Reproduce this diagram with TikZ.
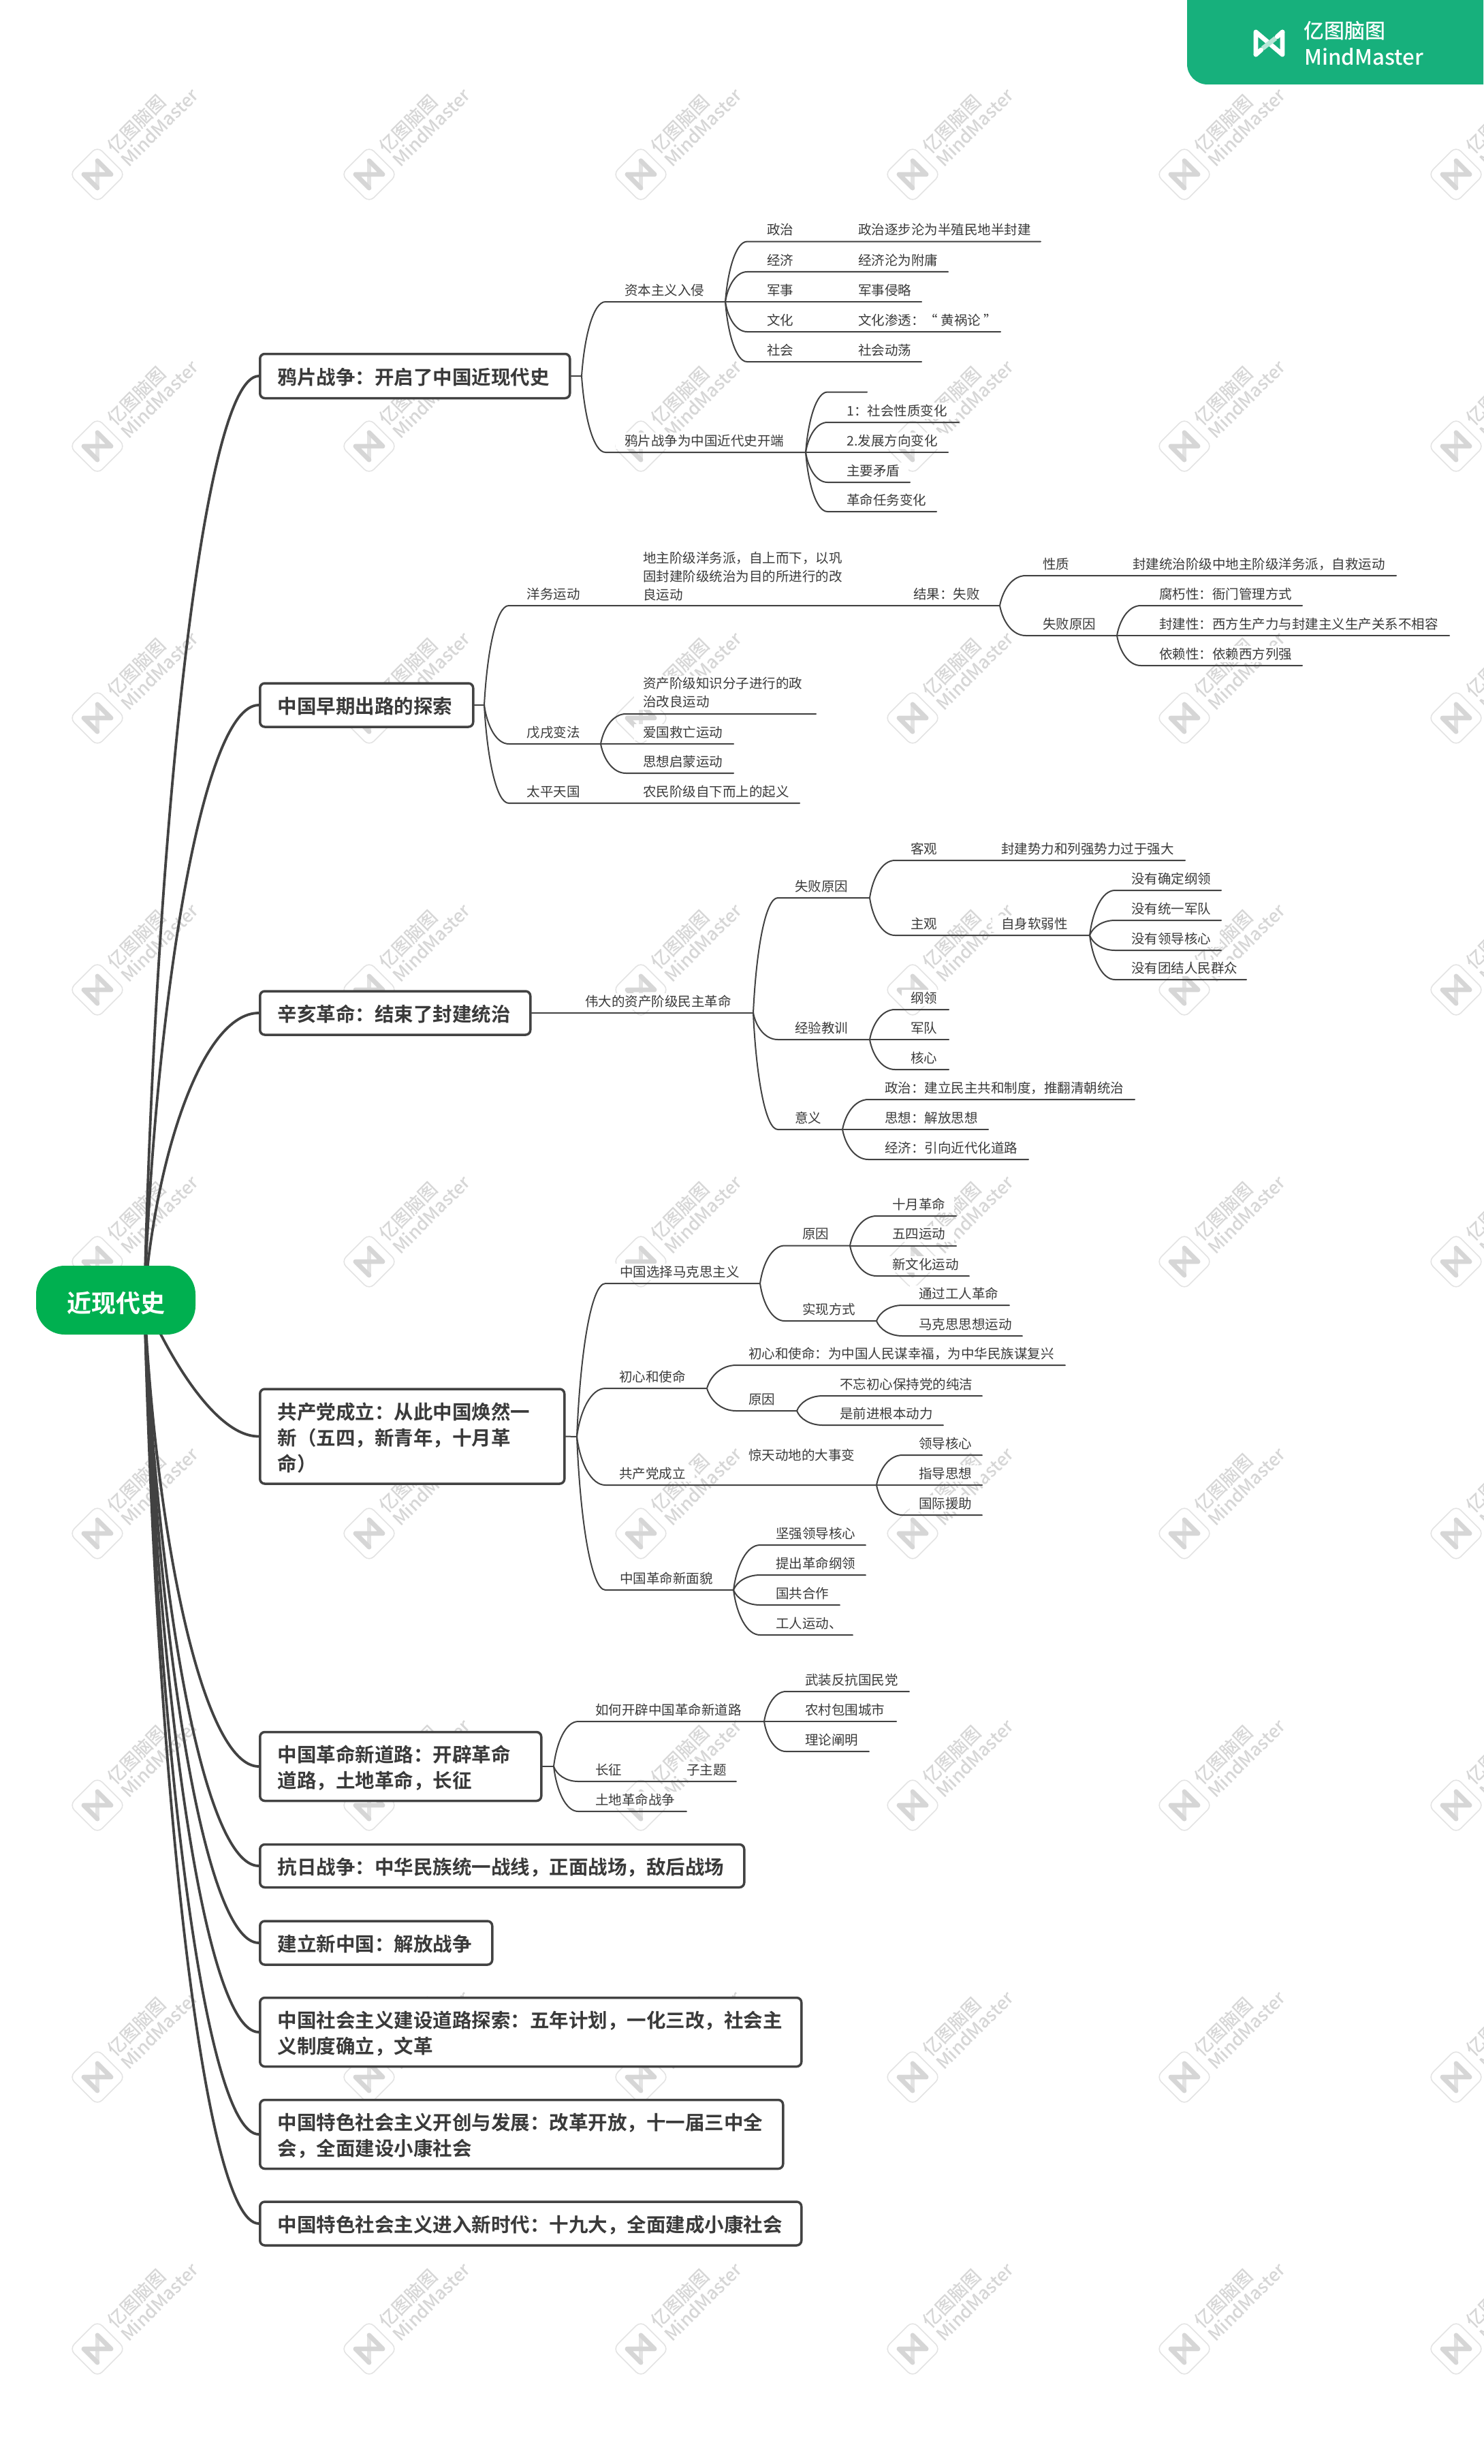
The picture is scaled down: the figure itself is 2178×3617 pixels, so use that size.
\documentclass[tikz,border=0pt]{standalone}
\usepackage{fontspec}
\usetikzlibrary{calc}
\setmainfont{Noto Sans CJK SC}[BoldFont={Noto Sans CJK SC Bold}]
\newfontfamily\medf{Noto Sans CJK SC Medium}
\definecolor{lc}{HTML}{424242}
\definecolor{tc}{HTML}{3A3A3A}
\definecolor{rootg}{HTML}{00B050}
\definecolor{bang}{HTML}{17B07C}
\definecolor{wm}{HTML}{D6D6D6}
\definecolor{wml}{HTML}{E3E3E3}
\newcommand{\st}{\rule[-1.2pt]{0pt}{9.8pt}}
\newcommand{\stb}{\rule[-1.7pt]{0pt}{16.2pt}}
\tikzset{
  l1/.style={draw=lc,line width=1.9pt,line cap=round},
  l2/.style={draw=lc,line width=1pt,line cap=round},
  txtnode/.style={fill=white,text=tc,inner xsep=6.5pt,inner ysep=1pt,anchor=west,align=left,
    font=\fontsize{9.75}{13.5}\selectfont},
  boxnode/.style={draw=lc,fill=white,line width=1.75pt,rounded corners=3.5pt,anchor=west,align=left,
    inner xsep=13pt,inner ysep=0pt,text=tc,font=\fontsize{14.25}{19}\selectfont\bfseries},
  rootnode/.style={fill=rootg,text=white,rounded corners=21pt,minimum width=117pt,minimum height=50.5pt,
    inner sep=0pt,font=\fontsize{18}{22}\selectfont\bfseries},
}
% branch: from start #1, curve to (#3,#4), then straight to (#5,#4); coordinates #2-e and #2-r
\newcommand{\brn}[5]{%
  \coordinate (#2-e) at (#3,#4);
  \coordinate (#2-r) at (#5,#4);
  \draw[l2] let \p1=(#1),\p2=(#2-e) in (#1) .. controls ({\x1+.12*(\x2-\x1)},{\y1+.55*(\y2-\y1)}) and ({\x1+.5*(\x2-\x1)},{\y2}) .. (#2-e) -- (#2-r);
}
% text above an underline at y=#3, left edge of the text at x=#2
\newcommand{\tx}[4]{\node[txtnode] (#1) at ({#2-13},{#3-17}) {\st #4};}
\newcommand{\bx}[5]{\node[boxnode,text width=#3pt,minimum height=#4pt] (#1) at (380,#2) {#5};}
\begin{document}
\begin{tikzpicture}[x=.5pt,y=-.5pt]
\useasboundingbox (0,0) rectangle (2178,3617);
\clip (0,0) rectangle (2178,3617);
% watermark
\foreach \i in {0,...,5}{
  \foreach \j in {0,...,8}{
    \pgfmathsetmacro{\X}{143+399*\i}
    \pgfmathsetmacro{\Y}{256+399*\j}
    \begin{scope}[shift={(\X,\Y)}]
      \draw[wml,line width=.8pt,rounded corners=5pt] (-41,0)--(0,-41)--(41,0)--(0,41)--cycle;
      \draw[wml,line width=3.4pt,line cap=round] (0,-20)--(0,20);
      \draw[wm,line width=3.4pt,line cap=round,line join=round] (0,20)--(-20,0)--(20,0)--(0,-20);
      \node[rotate=45,text=wm,inner sep=0pt,font=\medf\fontsize{13.4}{16}\selectfont] (wa\i\j) at (57,-74) {亿图脑图};
      \node[rotate=45,text=wm,inner sep=0pt,font=\medf\fontsize{13.2}{16}\selectfont] (wb\i\j) at (91,-69) {MindMaster};
    \end{scope}
  }
}
% banner
\fill[bang] (1743,0) [rounded corners=15pt] -- (1743,124) [sharp corners] -- (2178,124) -- (2178,0) -- cycle;
\draw[white,line width=3.4pt,line join=round,line cap=round] (1844,80)--(1844,47)--(1883,80)--(1883,47);
\draw[white,line width=3.4pt,line cap=round] (1883,47)--(1875,54) (1844,80)--(1852,73);
\draw[white!70!bang,line width=3.4pt] (1854,71)--(1873,56);
\node[text=white,inner sep=0pt,anchor=west,font=\medf\fontsize{15}{18}\selectfont] (lg1) at (1914,45) {亿图脑图};
\node[text=white,inner sep=0pt,anchor=west,font=\medf\fontsize{15.6}{18}\selectfont] (lg2) at (1915,83) {MindMaster};
% main topics
\bx{b1}{552}{201.5}{32.5}{\stb 鸦片战争：开启了中国近现代史}
\bx{b2}{1035}{130.5}{32}{\stb 中国早期出路的探索}
\bx{b3}{1487}{172.5}{32}{\stb 辛亥革命：结束了封建统治}
\bx{b4}{2108.5}{197.5}{69.5}{\stb 共产党成立：从此中国焕然一\\\stb 新（五四，新青年，十月革\\\stb 命）}
\bx{b5}{2593}{180.5}{50.5}{\stb 中国革命新道路：开辟革命\\\stb 道路，土地革命，长征}
\bx{b6}{2739}{329.5}{31.5}{\stb 抗日战争：中华民族统一战线，正面战场，敌后战场}
\bx{b7}{2852}{144.5}{32}{\stb 建立新中国：解放战争}
\bx{b8}{2983}{371.5}{50.5}{\stb 中国社会主义建设道路探索：五年计划，一化三改，社会主\\\stb 义制度确立，文革}
\bx{b9}{3133}{358}{50.5}{\stb 中国特色社会主义开创与发展：改革开放，十一届三中全\\\stb 会，全面建设小康社会}
\bx{b10}{3264}{371.5}{32}{\stb 中国特色社会主义进入新时代：十九大，全面建成小康社会}
% texts: b1
\tx{ta1}{917}{443}{资本主义入侵}
\tx{ta11}{1126}{354.6}{政治}\tx{ta11x}{1260}{354.6}{政治逐步沦为半殖民地半封建}
\tx{ta12}{1126}{399}{经济}\tx{ta12x}{1260}{399}{经济沦为附庸}
\tx{ta13}{1126}{443}{军事}\tx{ta13x}{1260}{443}{军事侵略}
\tx{ta14}{1126}{487}{文化}\tx{ta14x}{1260}{487}{文化渗透：“ 黄祸论 ”}
\tx{ta15}{1126}{531}{社会}\tx{ta15x}{1260}{531}{社会动荡}
\tx{ta2}{917}{664}{鸦片战争为中国近代史开端}
\tx{ta22}{1243}{620}{1：社会性质变化}
\tx{ta23}{1243}{664}{2.发展方向变化}
\tx{ta24}{1243}{708}{主要矛盾}
\tx{ta25}{1243}{751}{革命任务变化}
% texts: b2
\tx{tb1}{773.5}{889}{洋务运动}
\node[txtnode] (tb1x) at (931,846) {\st 地主阶级洋务派，自上而下，以巩\\\st 固封建阶级统治为目的所进行的改\\\st 良运动};
\tx{tb1y}{1341}{889}{结果：失败}
\tx{tb11}{1531}{845}{性质}\tx{tb11x}{1663}{845}{封建统治阶级中地主阶级洋务派，自救运动}
\tx{tb12}{1531}{933}{失败原因}
\tx{tb121}{1702}{889}{腐朽性：衙门管理方式}
\tx{tb122}{1702}{933}{封建性：西方生产力与封建主义生产关系不相容}
\tx{tb123}{1702}{977}{依赖性：依赖西方列强}
\tx{tb2}{773.5}{1092}{戊戌变法}
\node[txtnode] (tb21) at (931,1017) {\st 资产阶级知识分子进行的政\\\st 治改良运动};
\tx{tb22}{944}{1092}{爱国救亡运动}
\tx{tb23}{944}{1135}{思想启蒙运动}
\tx{tb3}{773.5}{1179}{太平天国}\tx{tb3x}{944}{1179}{农民阶级自下而上的起义}
% texts: b3
\tx{tc0}{859}{1487}{伟大的资产阶级民主革命}
\tx{tc1}{1167}{1318}{失败原因}
\tx{tc11}{1337}{1263}{客观}\tx{tc11x}{1470}{1263}{封建势力和列强势力过于强大}
\tx{tc12}{1337}{1373}{主观}\tx{tc12x}{1470}{1373}{自身软弱性}
\tx{tc121}{1661}{1307}{没有确定纲领}
\tx{tc122}{1661}{1351}{没有统一军队}
\tx{tc123}{1661}{1395}{没有领导核心}
\tx{tc124}{1661}{1438}{没有团结人民群众}
\tx{tc2}{1167}{1526}{经验教训}
\tx{tc21}{1337}{1482}{纲领}
\tx{tc22}{1337}{1526}{军队}
\tx{tc23}{1337}{1570}{核心}
\tx{tc3}{1167}{1658}{意义}
\tx{tc31}{1299}{1614}{政治：建立民主共和制度，推翻清朝统治}
\tx{tc32}{1299}{1658}{思想：解放思想}
\tx{tc33}{1299}{1702}{经济：引向近代化道路}
% texts: b4
\tx{td1}{910}{1884}{中国选择马克思主义}
\tx{td11}{1178}{1828.5}{原因}
\tx{td111}{1310}{1785}{十月革命}
\tx{td112}{1310}{1828.5}{五四运动}
\tx{td113}{1310}{1873}{新文化运动}
\tx{td12}{1178}{1939}{实现方式}
\tx{td121}{1349}{1916}{通过工人革命}
\tx{td122}{1349}{1961}{马克思思想运动}
\tx{td2}{909}{2038}{初心和使命}
\tx{td21}{1099}{2004}{初心和使命：为中国人民谋幸福，为中华民族谋复兴}
\tx{td22}{1099}{2071}{原因}
\tx{td221}{1233}{2049}{不忘初心保持党的纯洁}
\tx{td222}{1233}{2092}{是前进根本动力}
\tx{td3}{909}{2180}{共产党成立}
\tx{td3x}{1099}{2153}{惊天动地的大事变}
\tx{td31}{1349}{2136}{领导核心}
\tx{td32}{1349}{2180}{指导思想}
\tx{td33}{1349}{2224}{国际援助}
\tx{td4}{910}{2334}{中国革命新面貌}
\tx{td41}{1139}{2268}{坚强领导核心}
\tx{td42}{1139}{2312}{提出革命纲领}
\tx{td43}{1139}{2356}{国共合作}
\tx{td44}{1139}{2400}{工人运动、}
% texts: b5
\tx{te1}{874}{2527}{如何开辟中国革命新道路}
\tx{te11}{1182}{2483}{武装反抗国民党}
\tx{te12}{1182}{2527}{农村包围城市}
\tx{te13}{1182}{2571}{理论阐明}
\tx{te2}{874}{2615}{长征}\tx{te2x}{1008}{2615}{子主题}
\tx{te3}{874}{2659}{土地革命战争}
% connectors from the root
\coordinate (rc) at (212,1908);
\draw[l1] (rc) .. controls (228,1230) and (297,552) .. (b1.west);
\draw[l1] (rc) .. controls (228,1471) and (297,1035) .. (b2.west);
\draw[l1] (rc) .. controls (228,1698) and (297,1487) .. (b3.west);
\draw[l1] (rc) .. controls (245,1985) and (315,2109) .. (b4.west);
\draw[l1] (rc) .. controls (228,2250) and (297,2593) .. (b5.west);
\draw[l1] (rc) .. controls (228,2323) and (297,2739) .. (b6.west);
\draw[l1] (rc) .. controls (228,2380) and (297,2852) .. (b7.west);
\draw[l1] (rc) .. controls (228,2445) and (297,2983) .. (b8.west);
\draw[l1] (rc) .. controls (228,2520) and (297,3133) .. (b9.west);
\draw[l1] (rc) .. controls (228,2586) and (297,3264) .. (b10.west);
% b1 branches
\coordinate (j1) at (854,552); \draw[l2] (b1.east)--(j1);
\brn{j1}{a1}{889}{443}{1065}
\brn{a1-r}{a11}{1097}{354.6}{1528}
\brn{a1-r}{a12}{1097}{399}{1392}
\brn{a1-r}{a13}{1097}{443}{1353}
\brn{a1-r}{a14}{1097}{487}{1469}
\brn{a1-r}{a15}{1097}{531}{1353}
\brn{j1}{a2}{889}{664}{1183}
\brn{a2-r}{a21}{1215}{575.5}{1273}
\brn{a2-r}{a22}{1215}{620}{1408}
\brn{a2-r}{a23}{1215}{664}{1392}
\brn{a2-r}{a24}{1215}{708}{1336}
\brn{a2-r}{a25}{1215}{751}{1375}
% b2 branches
\coordinate (j2) at (711,1035); \draw[l2] (b2.east)--(j2);
\brn{j2}{c1}{747}{889}{1468}
\brn{c1-r}{c11}{1506}{845}{2050}
\brn{c1-r}{c12}{1506}{933}{1640}
\brn{c12-r}{c121}{1675}{889}{1912}
\brn{c12-r}{c122}{1675}{933}{2128}
\brn{c12-r}{c123}{1675}{977}{1912}
\brn{j2}{c2}{747}{1092}{882}
\brn{c2-r}{c21}{919}{1048}{1198}
\brn{c2-r}{c22}{919}{1092}{1077}
\brn{c2-r}{c23}{919}{1135}{1077}
\brn{j2}{c3}{747}{1179}{1174}
% b3 branches
\coordinate (j3) at (1106,1487); \draw[l2] (b3.east)--(j3);
\brn{j3}{d1}{1142}{1318}{1277}
\brn{d1-r}{d11}{1314}{1263}{1740}
\brn{d1-r}{d12}{1314}{1373}{1600}
\brn{d12-r}{d121}{1637}{1307}{1793}
\brn{d12-r}{d122}{1637}{1351}{1793}
\brn{d12-r}{d123}{1637}{1395}{1793}
\brn{d12-r}{d124}{1637}{1438}{1830}
\brn{j3}{d2}{1142}{1526}{1277}
\brn{d2-r}{d21}{1314}{1482}{1393}
\brn{d2-r}{d22}{1314}{1526}{1393}
\brn{d2-r}{d23}{1314}{1570}{1393}
\brn{j3}{d3}{1142}{1658}{1237}
\brn{d3-r}{d31}{1275}{1614}{1666}
\brn{d3-r}{d32}{1275}{1658}{1451}
\brn{d3-r}{d33}{1275}{1702}{1510}
% b4 branches
\coordinate (j4) at (847,2109); \draw[l2] (b4.east)--(j4);
\brn{j4}{e1}{889}{1884}{1116}
\brn{e1-r}{e11}{1152}{1828.5}{1248}
\brn{e11-r}{e111}{1287}{1785}{1404}
\brn{e11-r}{e112}{1287}{1828.5}{1404}
\brn{e11-r}{e113}{1287}{1873}{1423}
\brn{e1-r}{e12}{1152}{1939}{1287}
\brn{e12-r}{e121}{1325}{1916}{1482}
\brn{e12-r}{e122}{1325}{1961}{1501}
\brn{j4}{e2}{889}{2038}{1038}
\brn{e2-r}{e21}{1081}{2004}{1564}
\brn{e2-r}{e22}{1081}{2071}{1170}
\brn{e22-r}{e221}{1208}{2049}{1442}
\brn{e22-r}{e222}{1208}{2092}{1385}
\brn{j4}{e3}{889}{2180}{1287}
\brn{e3-r}{e31}{1325}{2136}{1442}
\brn{e3-r}{e32}{1325}{2180}{1442}
\brn{e3-r}{e33}{1325}{2224}{1442}
\brn{j4}{e4}{889}{2334}{1077}
\brn{e4-r}{e41}{1116}{2268}{1271}
\brn{e4-r}{e42}{1116}{2312}{1271}
\brn{e4-r}{e43}{1116}{2356}{1233}
\brn{e4-r}{e44}{1116}{2400}{1252}
% b5 branches
\coordinate (j5) at (813,2593); \draw[l2] (b5.east)--(j5);
\brn{j5}{f1}{849}{2527}{1122}
\brn{f1-r}{f11}{1154}{2483}{1335}
\brn{f1-r}{f12}{1154}{2527}{1316}
\brn{f1-r}{f13}{1154}{2571}{1276}
\brn{j5}{f2}{849}{2615}{1081}
\brn{j5}{f3}{849}{2659}{1008}
% root
\node[rootnode] (root) at (170,1908.5) {\rule[-1.7pt]{0pt}{21pt}近现代史};
\end{tikzpicture}
\end{document}
